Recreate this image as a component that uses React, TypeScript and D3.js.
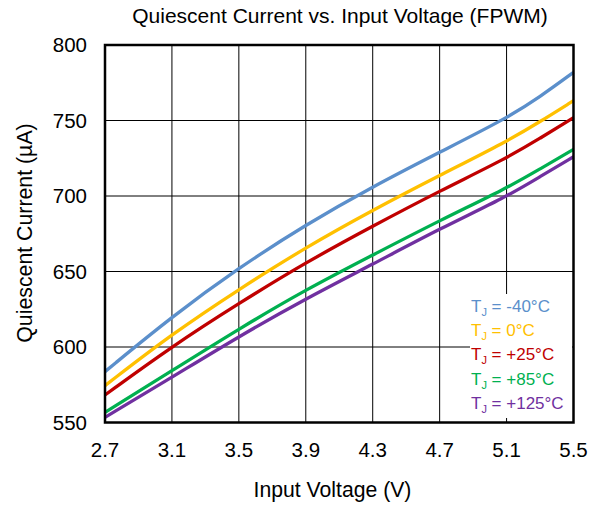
import React from "react";
import * as d3 from "d3";

const voltage = [2.7, 3.1, 3.5, 3.9, 4.3, 4.7, 5.1, 5.3, 5.5];
const iqM40 = [583.7, 620.1, 652.5, 681.0, 706.2, 729.0, 751.4, 765.7, 781.9];
const iq0 = [574.4, 608.6, 638.2, 666.0, 690.7, 713.7, 736.0, 749.2, 763.1];
const iq25 = [568.2, 600.4, 628.9, 656.0, 680.1, 703.3, 725.0, 738.2, 751.9];
const iq85 = [556.7, 584.3, 612.0, 638.0, 660.9, 683.8, 705.1, 717.9, 730.9];
const iq125 = [553.4, 579.9, 607.0, 632.0, 654.8, 678.3, 699.5, 712.8, 726.0];

const seriesNames = ["-40°C", "0°C", "+25°C", "+85°C", "+125°C"];
const seriesValues = [iqM40, iq0, iq25, iq85, iq125];
const seriesColors = ["#5B8FCB", "#FFC000", "#C00000", "#00B050", "#7030A0"];

const xTicks = [2.7, 3.1, 3.5, 3.9, 4.3, 4.7, 5.1, 5.5];
const yTicks = [550, 600, 650, 700, 750, 800];

const W = 600;
const H = 505;
const L = 105;
const R = 573.5;
const T = 45;
const B = 422.5;
const FONT = "'Liberation Sans', Arial, sans-serif";

export default function App() {
  const x = d3.scaleLinear().domain([2.7, 5.5]).range([L, R]);
  const y = d3.scaleLinear().domain([550, 800]).range([B, T]);
  const line = d3
    .line<[number, number]>()
    .x((d) => x(d[0]))
    .y((d) => y(d[1]))
    .curve(d3.curveBasis);

  const legX = 471;
  const legY0 = 312;
  const legDy = 24.2;

  return (
    <svg
      width={W}
      height={H}
      style={{ position: "absolute", left: 0, top: 0, display: "block", background: "#fff" }}
      fontFamily={FONT}
    >
      <rect x={0} y={0} width={W} height={H} fill="#fff" />
      <text x={340} y={23} textAnchor="middle" fontSize={21} fill="#000">
        Quiescent Current vs. Input Voltage (FPWM)
      </text>
      {xTicks.map((t) => (
        <line key={"gx" + t} x1={x(t)} x2={x(t)} y1={T} y2={B} stroke="#000" strokeWidth={1} />
      ))}
      {yTicks.map((t) => (
        <line key={"gy" + t} x1={L} x2={R} y1={y(t)} y2={y(t)} stroke="#000" strokeWidth={1} />
      ))}
      {seriesValues.map((vals, i) => (
        <path
          key={"s" + i}
          d={line(voltage.map((v, j) => [v, vals[j]] as [number, number])) || ""}
          fill="none"
          stroke={seriesColors[i]}
          strokeWidth={3.3}
          strokeLinejoin="round"
        />
      ))}
      <rect x={470} y={294} width={102} height={124} fill="#fff" />
      {seriesNames.map((n, i) => (
        <text key={"l" + i} x={legX} y={legY0 + i * legDy} fontSize={17} fill={seriesColors[i]}>
          T<tspan fontSize={11} dy={4}>J</tspan>
          <tspan dy={-4}>{" = " + n}</tspan>
        </text>
      ))}
      <rect x={L} y={T} width={R - L} height={B - T} fill="none" stroke="#000" strokeWidth={2.5} />
      {xTicks.map((t) => (
        <text key={"tx" + t} x={x(t)} y={457} textAnchor="middle" fontSize={20.5} fill="#000">
          {t.toFixed(1)}
        </text>
      ))}
      {yTicks.map((t) => (
        <text key={"ty" + t} x={87} y={y(t)} dy="0.36em" textAnchor="end" fontSize={20.5} fill="#000">
          {t}
        </text>
      ))}
      <text x={332.5} y={497} textAnchor="middle" fontSize={21.2} fill="#000">
        Input Voltage (V)
      </text>
      <text
        transform={`translate(32,233) rotate(-90)`}
        textAnchor="middle"
        fontSize={21.3}
        fill="#000"
      >
        Quiescent Current (µA)
      </text>
    </svg>
  );
}
